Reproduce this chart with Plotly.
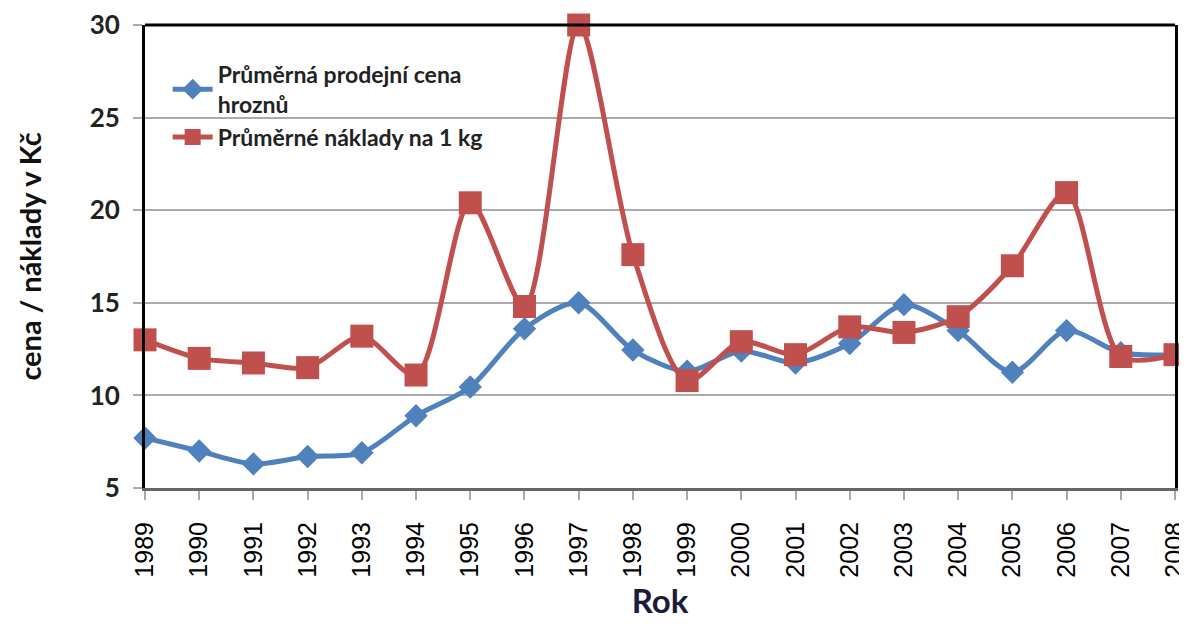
import plotly.graph_objects as go

# roky a hodnoty
roky = list(range(1989, 2009))
prodejni_cena = [7.7, 7.0, 6.3, 6.7, 6.9, 8.9, 10.45, 13.6, 15.0, 12.45,
                 11.3, 12.4, 11.75, 12.8, 14.9, 13.5, 11.25, 13.5, 12.3, 12.2]
naklady = [13.0, 12.0, 11.75, 11.5, 13.2, 11.1, 20.4, 14.8, 30.0, 17.6,
           10.8, 12.9, 12.2, 13.7, 13.4, 14.25, 17.0, 20.95, 12.1, 12.2]

modra = '#4F81BD'
cervena = '#C0504D'

fig = go.Figure()

fig.add_trace(go.Scatter(
    x=roky, y=prodejni_cena,
    mode='lines+markers',
    name='Průměrná prodejní cena<br>hroznů',
    line=dict(color=modra, width=5, shape='spline', smoothing=0.8),
    marker=dict(symbol='diamond', size=18, color=modra),
    cliponaxis=False,
))
fig.add_trace(go.Scatter(
    x=roky, y=naklady,
    mode='lines+markers',
    name='Průměrné náklady na 1 kg',
    line=dict(color=cervena, width=5, shape='spline', smoothing=0.8),
    marker=dict(symbol='square', size=23, color=cervena),
    cliponaxis=False,
))

# stránka má okraj 8 px, proto menší rozměr a okraje
fig.update_layout(
    width=1179, height=620,
    margin=dict(l=137, r=12, t=17, b=140),
    paper_bgcolor='white',
    plot_bgcolor='white',
    showlegend=True,
    legend=dict(
        x=0.022, y=0.94, xanchor='left', yanchor='top',
        bgcolor='rgba(0,0,0,0)',
        font=dict(family='Lato', size=23, color='#222', weight='bold'),
        tracegroupgap=8,
        itemwidth=40,
    ),
    shapes=[dict(
        type='line', xref='x domain', yref='y domain',
        x0=0, x1=1, y0=1, y1=1,
        line=dict(color='black', width=3),
    )],
)

fig.update_xaxes(
    range=[1989, 2008], automargin=False,
    tickmode='array', tickvals=roky, ticktext=[str(r) for r in roky],
    tickangle=-90, ticklabeloverflow='allow', ticklabelstandoff=12,
    tickfont=dict(family='Liberation Sans', size=25, color='black'),
    ticks='outside', ticklen=9, tickcolor='#aaa', tickwidth=2,
    showgrid=False, zeroline=False,
    showline=True, linecolor='#666', linewidth=3,
    title=dict(text='<b>Rok</b>', font=dict(family='Lato', size=33, color='#1c1c3a'),
               standoff=14),
)
fig.update_yaxes(
    range=[5, 30], dtick=5, automargin=False,
    tickfont=dict(family='Lato', size=26, color='#222', weight='bold'),
    ticks='outside', ticklen=9, tickcolor='#aaa', tickwidth=2,
    ticklabelstandoff=8,
    showgrid=True, gridcolor='#aaaaaa', gridwidth=1.5,
    zeroline=False,
    showline=True, linecolor='black', linewidth=3, mirror=True,
    title=dict(text='<b>cena / náklady v Kč</b>',
               font=dict(family='Lato', size=29, color='#111'), standoff=40),
)

fig.write_html('out.html')
